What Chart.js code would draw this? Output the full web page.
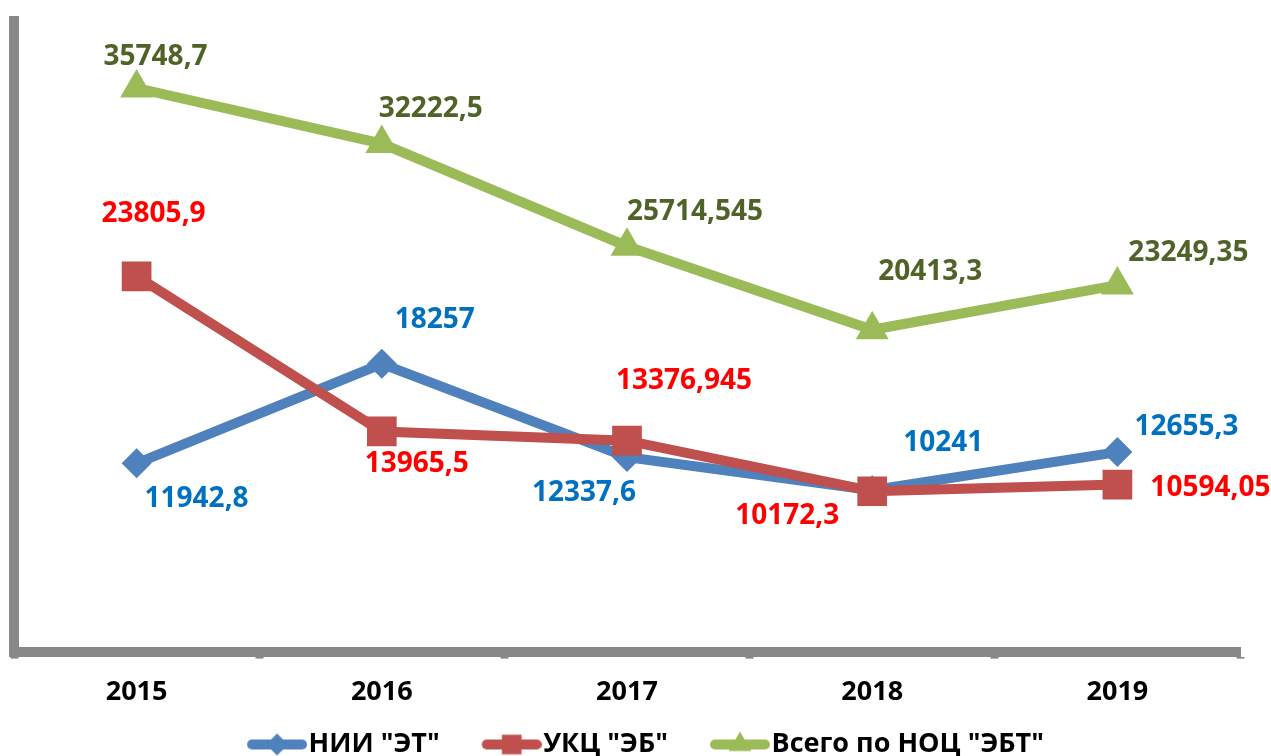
<!DOCTYPE html>
<html>
<head>
<meta charset="utf-8">
<script src="https://cdn.jsdelivr.net/npm/chart.js@4"></script>
<style>
  html, body { margin: 0; padding: 0; background: #fff; overflow: hidden; }
  #wrap { width: 1271px; height: 756px; overflow: hidden; }
  #chart { margin-left: -7px; display: block; }
</style>
</head>
<body>
<div id="wrap"><canvas id="chart" width="1278" height="756"></canvas></div>
<script>
const years = ['2015', '2016', '2017', '2018', '2019'];
const niiEt = [11942.8, 18257, 12337.6, 10241, 12655.3];
const ukcEb = [23805.9, 13965.5, 13376.945, 10172.3, 10594.05];
const nocTotal = [35748.7, 32222.5, 25714.545, 20413.3, 23249.35];
const seriesNames = ['НИИ "ЭТ"', 'УКЦ "ЭБ"', 'Всего по НОЦ "ЭБТ"'];

// label offsets from the point (text centre), picked to match the picture
const niiOffsets = [[60, 36], [53, -44], [-43, 36], [71, -47], [69, -25]];
const ukcOffsets = [[17, -62], [35, 33], [57, -60], [-85, 25], [93, 3]];
const nocOffsets = [[19, -31], [49, -35], [68, -34], [58, -58], [71, -32]];

const fmt = v => String(v).replace('.', ',');
const labelFont = 'bold 28px "Open Sans", "Noto Sans", sans-serif';

// legend icon: line with marker, right aligned in a wider canvas
const BOX_W = 82, ICON_W = 106, ICON_H = 34;
function legendIcon(color, style, radius) {
    const c = document.createElement('canvas');
    c.width = ICON_W; c.height = ICON_H;
    const g = c.getContext('2d');
    const cy = ICON_H / 2, x0 = ICON_W - 60, cx = ICON_W - 30;
    g.strokeStyle = color;
    g.fillStyle = color;
    g.lineWidth = 10;
    g.lineCap = 'round';
    g.beginPath(); g.moveTo(x0 + 5, cy); g.lineTo(ICON_W - 5, cy); g.stroke();
    g.beginPath();
    if (style === 'rectRot') { g.moveTo(cx, cy - radius); g.lineTo(cx + radius, cy); g.lineTo(cx, cy + radius); g.lineTo(cx - radius, cy); }
    else if (style === 'rect') { g.rect(cx - radius * 0.7, cy - radius * 0.7, radius * 1.4, radius * 1.4); }
    else { g.moveTo(cx, cy - radius); g.lineTo(cx + radius * 0.87, cy + radius / 2); g.lineTo(cx - radius * 0.87, cy + radius / 2); }
    g.closePath(); g.fill();
    return c;
}

const valueLabels = {
    id: 'valueLabels',
    afterDatasetsDraw(chart) {
        const ctx = chart.ctx;
        ctx.save();
        ctx.font = labelFont;
        ctx.textAlign = 'center';
        ctx.textBaseline = 'middle';
        chart.data.datasets.forEach((ds, di) => {
            const meta = chart.getDatasetMeta(di);
            meta.data.forEach((pt, i) => {
                const off = ds.labelOffsets[i];
                ctx.fillStyle = ds.labelColor;
                ctx.fillText(fmt(ds.data[i]), pt.x + off[0], pt.y + off[1]);
            });
        });
        ctx.restore();
    }
};

// nudge the legend a little right and up, like in the picture
const legendShift = {
    id: 'legendShift',
    afterLayout(chart) {
        const lg = chart.legend;
        if (!lg) return;
        lg.left += 12; lg.right += 12;
        lg.top -= 4; lg.bottom -= 4;
    }
};

window.addEventListener('DOMContentLoaded', () => {
    const colors = ['#4F81BD', '#C0504D', '#9BBB59'];
    const icons = [legendIcon(colors[0], 'rectRot', 11), legendIcon(colors[1], 'rect', 14), legendIcon(colors[2], 'triangle', 13)];

    new Chart(document.getElementById('chart').getContext('2d'), {
        type: 'line',
        data: {
            labels: years,
            datasets: [
                {
                    label: seriesNames[0],
                    data: niiEt,
                    borderColor: colors[0],
                    backgroundColor: colors[0],
                    borderWidth: 10,
                    pointStyle: 'rectRot',
                    pointRadius: 15,
                    pointBorderWidth: 0,
                    order: 1,
                    labelColor: '#0070C0',
                    labelOffsets: niiOffsets
                },
                {
                    label: seriesNames[1],
                    data: ukcEb,
                    borderColor: colors[1],
                    backgroundColor: colors[1],
                    borderWidth: 10,
                    pointStyle: 'rect',
                    pointRadius: 21,
                    pointBorderWidth: 0,
                    order: 0,
                    labelColor: '#FF0000',
                    labelOffsets: ukcOffsets
                },
                {
                    label: seriesNames[2],
                    data: nocTotal,
                    borderColor: colors[2],
                    backgroundColor: colors[2],
                    borderWidth: 10,
                    pointStyle: 'triangle',
                    pointRadius: 19,
                    pointBorderWidth: 0,
                    order: 2,
                    labelColor: '#4F6228',
                    labelOffsets: nocOffsets
                }
            ]
        },
        options: {
            responsive: false,
            animation: false,
            layout: { padding: { left: 0, right: 31, top: 16, bottom: -16 } },
            plugins: {
                tooltip: { enabled: false },
                legend: {
                    position: 'bottom',
                    labels: {
                        usePointStyle: true,
                        pointStyleWidth: BOX_W,
                        padding: 8,
                        color: '#000',
                        font: { family: '"Open Sans", sans-serif', size: 27, weight: 'bold' },
                        generateLabels: chart => chart.data.datasets.map((ds, i) => ({
                            text: ds.label,
                            pointStyle: icons[i],
                            fillStyle: ds.borderColor,
                            strokeStyle: ds.borderColor,
                            lineWidth: 0,
                            datasetIndex: i,
                            hidden: false
                        }))
                    }
                }
            },
            scales: {
                x: {
                    offset: true,
                    grid: { display: true, drawOnChartArea: false, offset: true, tickLength: 7, tickWidth: 8, tickColor: '#888', color: '#888' },
                    border: { display: true, color: '#888', width: 10 },
                    ticks: { color: '#000', padding: 18, font: { family: '"Open Sans", sans-serif', size: 27, weight: 'bold' } }
                },
                y: {
                    min: 0,
                    max: 40000,
                    grid: { display: false },
                    border: { display: true, color: '#888', width: 10 },
                    ticks: { display: false }
                }
            }
        },
        plugins: [valueLabels, legendShift]
    });
});
</script>
</body>
</html>
